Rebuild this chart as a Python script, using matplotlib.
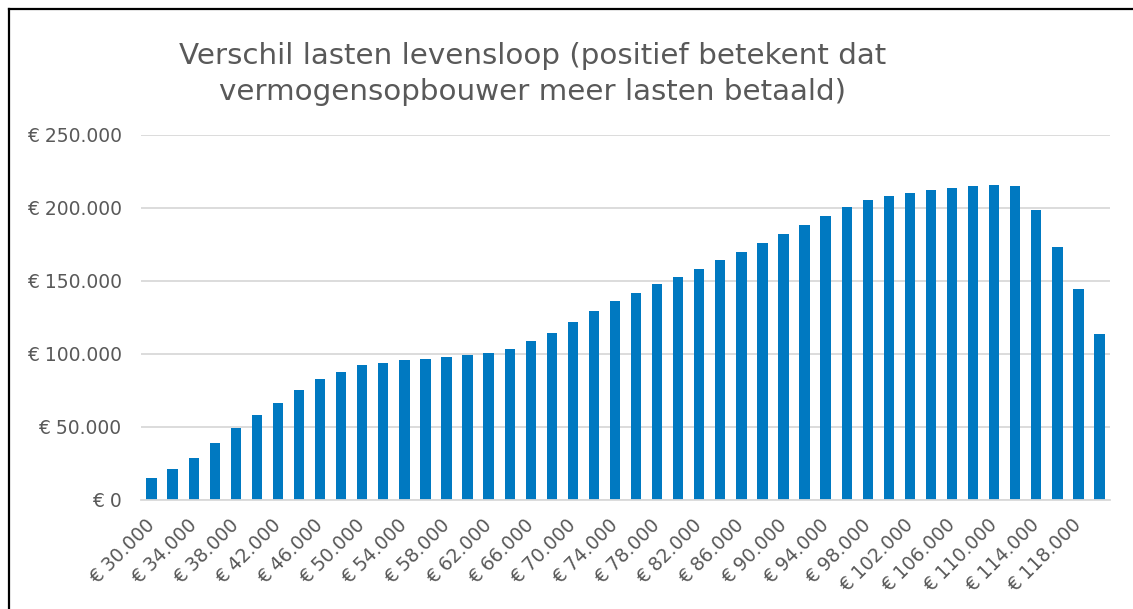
import matplotlib
matplotlib.use("Agg")
import matplotlib.pyplot as plt
from matplotlib.lines import Line2D
from matplotlib.ticker import FuncFormatter

# inkomen (x-as) en verschil in lasten (y-as)
incomes = list(range(30000, 120001, 2000))
differences = [
    15200, 21200, 28500, 39200, 49400, 58300, 66700, 75100, 82900, 87400,
    92200, 93600, 95600, 96800, 97700, 99200, 100600, 103400, 108800, 114300,
    121600, 129600, 136100, 141900, 147500, 152500, 157800, 163900, 169600, 175800,
    182200, 188300, 194000, 200600, 205400, 207900, 209900, 212200, 213600, 215000,
    215800, 214500, 198100, 173300, 144100, 113700,
]
title = "Verschil lasten levensloop (positief betekent dat\nvermogensopbouwer meer lasten betaald)"

BAR_COLOR = "#0079C1"
TEXT_COLOR = "#595959"
GRID_COLOR = "#D9D9D9"

plt.rcParams["font.family"] = ["DejaVu Sans"]


def euro(v, pos=None):
    return "€ " + f"{int(round(v)):,}".replace(",", ".")


fig = plt.figure(figsize=(11.33, 6.09), dpi=100)
ax = fig.add_axes([0.1245, 0.179, 0.9797 - 0.1245, 0.600])

positions = list(range(len(incomes)))
ax.bar(positions, differences, width=0.49, color=BAR_COLOR, zorder=3)

ax.set_xlim(-0.5, len(incomes) - 0.5)
ax.set_ylim(0, 250000)
ax.set_yticks(range(0, 250001, 50000))
ax.yaxis.set_major_formatter(FuncFormatter(euro))
ax.grid(axis="y", color=GRID_COLOR, linewidth=1.3, zorder=0)

ax.set_xticks(positions[::2])
ax.set_xticklabels([euro(v) for v in incomes[::2]], rotation=45,
                   ha="right", va="center", rotation_mode="anchor")

for side in ("top", "right", "left"):
    ax.spines[side].set_visible(False)
ax.spines["bottom"].set_color(GRID_COLOR)
ax.spines["bottom"].set_linewidth(1.3)
ax.spines["bottom"].set_zorder(4)

ax.tick_params(axis="y", length=0, pad=14, labelsize=13.5, labelcolor=TEXT_COLOR)
ax.tick_params(axis="x", length=0, pad=16, labelsize=13.5, labelcolor=TEXT_COLOR)

fig.text(0.47, 0.878, title, ha="center", va="center", fontsize=21.2,
         color=TEXT_COLOR, linespacing=1.35)

# rand om de grafiek
fig.add_artist(Line2D([9 / 1133, 9 / 1133], [0, 1 - 9 / 609], color="black", linewidth=1.6))
fig.add_artist(Line2D([9 / 1133, 1], [1 - 9 / 609, 1 - 9 / 609], color="black", linewidth=1.6))

fig.savefig("out.png", dpi=100)
